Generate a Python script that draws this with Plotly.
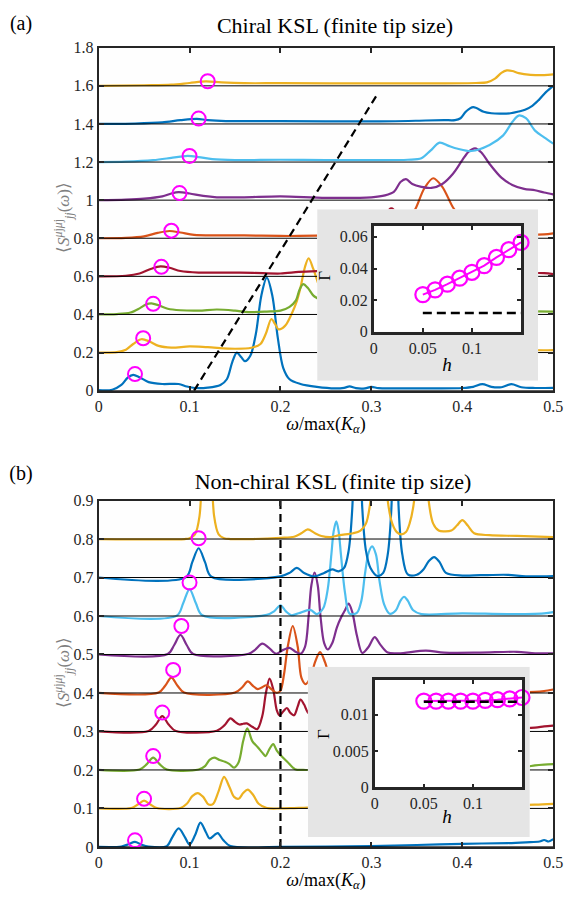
import plotly.graph_objects as go

W, H = 572, 903
FONT = "Liberation Serif"
AX = "#262626"

# ---------------- data: panel (a) chiral KSL ----------------
a_colors = ["#0072BD", "#EDB120", "#77AC30", "#A2142F", "#D95319",
            "#7E2F8E", "#4DBEEE", "#0072BD", "#EDB120"]
a_offsets = [0, 0.2, 0.4, 0.6, 0.8, 1.0, 1.2, 1.4, 1.6]

a_w0 = [0, 0.015, 0.025, 0.032, 0.038, 0.045, 0.055, 0.07, 0.088, 0.097, 0.106, 0.12, 0.134, 0.141, 0.147, 0.152, 0.157, 0.161, 0.167, 0.173, 0.179, 0.185, 0.191, 0.197, 0.203, 0.21, 0.222, 0.24, 0.26, 0.27, 0.276, 0.283, 0.293, 0.3, 0.308, 0.33, 0.37, 0.4, 0.412, 0.422, 0.432, 0.443, 0.454, 0.465, 0.48, 0.5]
a_s0 = [0.003, 0.005, 0.03, 0.068, 0.083, 0.07, 0.045, 0.035, 0.035, 0.022, 0.014, 0.016, 0.03, 0.06, 0.15, 0.2, 0.175, 0.155, 0.185, 0.3, 0.5, 0.593, 0.5, 0.28, 0.12, 0.06, 0.035, 0.02, 0.012, 0.015, 0.022, 0.013, 0.012, 0.02, 0.013, 0.012, 0.012, 0.014, 0.02, 0.034, 0.02, 0.018, 0.034, 0.018, 0.014, 0.015]

a_w1 = [0, 0.02, 0.03, 0.038, 0.047, 0.056, 0.066, 0.08, 0.1, 0.12, 0.15, 0.168, 0.178, 0.184, 0.19, 0.194, 0.198, 0.205, 0.212, 0.218, 0.222, 0.227, 0.231, 0.236, 0.241, 0.25, 0.262, 0.28, 0.3, 0.33, 0.36, 0.4, 0.44, 0.47, 0.49, 0.5]
a_s1 = [0.2, 0.202, 0.215, 0.245, 0.27, 0.258, 0.235, 0.226, 0.232, 0.228, 0.22, 0.225, 0.245, 0.3, 0.376, 0.35, 0.322, 0.34, 0.4, 0.47, 0.54, 0.65, 0.695, 0.64, 0.57, 0.45, 0.32, 0.26, 0.24, 0.23, 0.225, 0.222, 0.215, 0.213, 0.212, 0.213]

a_w2 = [0, 0.02, 0.035, 0.045, 0.052, 0.058, 0.066, 0.076, 0.09, 0.11, 0.13, 0.15, 0.165, 0.185, 0.2, 0.21, 0.217, 0.221, 0.225, 0.23, 0.236, 0.242, 0.25, 0.26, 0.28, 0.3, 0.34, 0.38, 0.42, 0.46, 0.48, 0.5]
a_s2 = [0.4, 0.402, 0.41, 0.432, 0.452, 0.458, 0.448, 0.43, 0.422, 0.42, 0.426, 0.42, 0.412, 0.415, 0.42, 0.44, 0.474, 0.53, 0.559, 0.54, 0.5, 0.48, 0.45, 0.43, 0.425, 0.42, 0.418, 0.42, 0.418, 0.416, 0.416, 0.415]

a_w3 = [0, 0.03, 0.045, 0.058, 0.068, 0.078, 0.09, 0.11, 0.14, 0.17, 0.2, 0.22, 0.24, 0.27, 0.3, 0.31, 0.317, 0.322, 0.327, 0.334, 0.345, 0.37, 0.4, 0.43, 0.46, 0.49, 0.5]
a_s3 = [0.6, 0.603, 0.615, 0.64, 0.652, 0.645, 0.628, 0.62, 0.62, 0.618, 0.615, 0.623, 0.627, 0.63, 0.64, 0.7, 0.93, 0.957, 0.93, 0.7, 0.64, 0.63, 0.63, 0.625, 0.62, 0.617, 0.612]

a_w4 = [0, 0.03, 0.05, 0.065, 0.078, 0.09, 0.105, 0.13, 0.16, 0.2, 0.22, 0.25, 0.3, 0.325, 0.338, 0.348, 0.358, 0.368, 0.378, 0.39, 0.4, 0.415, 0.44, 0.47, 0.49, 0.5]
a_s4 = [0.8, 0.802, 0.81, 0.828, 0.838, 0.83, 0.818, 0.815, 0.815, 0.812, 0.812, 0.815, 0.82, 0.845, 0.89, 0.95, 1.06, 1.115, 1.07, 0.96, 0.9, 0.85, 0.825, 0.818, 0.82, 0.826]

a_w5 = [0, 0.03, 0.05, 0.07, 0.08, 0.088, 0.1, 0.115, 0.13, 0.16, 0.2, 0.25, 0.3, 0.315, 0.325, 0.332, 0.338, 0.345, 0.355, 0.366, 0.378, 0.39, 0.4, 0.407, 0.414, 0.421, 0.43, 0.443, 0.455, 0.468, 0.48, 0.49, 0.5]
a_s5 = [1.0, 1.003, 1.008, 1.02, 1.035, 1.042, 1.035, 1.022, 1.015, 1.015, 1.02, 1.012, 1.015, 1.025, 1.045, 1.095, 1.11, 1.085, 1.07, 1.064, 1.085, 1.14, 1.21, 1.255, 1.272, 1.25, 1.19, 1.118, 1.08, 1.059, 1.052, 1.04, 1.03]

a_w6 = [0, 0.03, 0.06, 0.08, 0.09, 0.098, 0.11, 0.125, 0.15, 0.2, 0.25, 0.3, 0.34, 0.355, 0.365, 0.375, 0.385, 0.395, 0.41, 0.43, 0.445, 0.455, 0.462, 0.47, 0.48, 0.49, 0.5]
a_s6 = [1.2, 1.202, 1.21, 1.222, 1.228, 1.232, 1.226, 1.215, 1.21, 1.212, 1.21, 1.21, 1.212, 1.22, 1.26, 1.302, 1.285, 1.27, 1.258, 1.29, 1.34, 1.41, 1.444, 1.43, 1.365, 1.33, 1.297]

a_w7 = [0, 0.04, 0.07, 0.09, 0.108, 0.12, 0.14, 0.2, 0.3, 0.36, 0.38, 0.392, 0.398, 0.404, 0.412, 0.4235, 0.432, 0.441, 0.453, 0.462, 0.469, 0.477, 0.484, 0.492, 0.5]
a_s7 = [1.4, 1.402, 1.408, 1.42, 1.427, 1.42, 1.415, 1.415, 1.413, 1.418, 1.42, 1.42, 1.43, 1.465, 1.488, 1.464, 1.456, 1.454, 1.456, 1.465, 1.475, 1.495, 1.525, 1.567, 1.6]

a_w8 = [0, 0.05, 0.08, 0.1, 0.118, 0.135, 0.16, 0.2, 0.3, 0.38, 0.415, 0.427, 0.436, 0.443, 0.449, 0.455, 0.462, 0.475, 0.49, 0.5]
a_s8 = [1.6, 1.603, 1.606, 1.615, 1.623, 1.618, 1.614, 1.614, 1.613, 1.613, 1.615, 1.618, 1.638, 1.668, 1.681, 1.678, 1.667, 1.658, 1.656, 1.66]

a_circ_w = [0.04, 0.049, 0.06, 0.069, 0.08, 0.089, 0.1, 0.11, 0.12]
a_circ_s = [0.087, 0.275, 0.456, 0.65, 0.84, 1.037, 1.232, 1.428, 1.624]

a_guide_w = [0.105, 0.308]
a_guide_s = [0.0, 1.567]

# ---------------- data: panel (b) non-chiral KSL ----------------
b_colors = a_colors
b_offsets = [0, 0.1, 0.2, 0.3, 0.4, 0.5, 0.6, 0.7, 0.8]

b_w0 = [0, 0.025, 0.033, 0.04, 0.047, 0.055, 0.075, 0.081, 0.088, 0.095, 0.1, 0.106, 0.112, 0.118, 0.122, 0.127, 0.131, 0.137, 0.145, 0.2, 0.3, 0.35, 0.4, 0.45, 0.47, 0.485, 0.49, 0.495, 0.5]
b_s0 = [0, 0.001, 0.007, 0.013, 0.006, 0.001, 0.002, 0.025, 0.048, 0.025, 0.006, 0.03, 0.063, 0.038, 0.022, 0.03, 0.036, 0.018, 0.002, 0.0, 0.002, 0.005, 0.008, 0.01, 0.012, 0.014, 0.018, 0.014, 0.02]

b_w1 = [0, 0.036, 0.043, 0.05, 0.057, 0.064, 0.09, 0.097, 0.103, 0.109, 0.115, 0.121, 0.126, 0.132, 0.138, 0.144, 0.149, 0.154, 0.159, 0.164, 0.17, 0.176, 0.185, 0.2, 0.215, 0.23, 0.25, 0.27, 0.3, 0.35, 0.4, 0.45, 0.48, 0.5]
b_s1 = [0.1, 0.101, 0.11, 0.12, 0.11, 0.101, 0.101, 0.112, 0.132, 0.14, 0.13, 0.11, 0.112, 0.145, 0.182, 0.155, 0.13, 0.125, 0.14, 0.149, 0.135, 0.112, 0.101, 0.1, 0.101, 0.102, 0.105, 0.103, 0.104, 0.105, 0.107, 0.108, 0.11, 0.112]

b_w2 = [0, 0.045, 0.053, 0.06, 0.067, 0.075, 0.11, 0.117, 0.122, 0.127, 0.133, 0.139, 0.144, 0.149, 0.154, 0.159, 0.1635, 0.169, 0.175, 0.18, 0.1835, 0.188, 0.192, 0.196, 0.201, 0.208, 0.216, 0.225, 0.25, 0.3, 0.35, 0.4, 0.45, 0.47, 0.48, 0.49, 0.5]
b_s2 = [0.2, 0.201, 0.215, 0.232, 0.215, 0.201, 0.201, 0.21, 0.226, 0.232, 0.226, 0.221, 0.215, 0.206, 0.22, 0.275, 0.308, 0.275, 0.259, 0.245, 0.236, 0.255, 0.267, 0.25, 0.236, 0.22, 0.202, 0.2, 0.201, 0.203, 0.204, 0.205, 0.206, 0.208, 0.212, 0.214, 0.215]

b_w3 = [0, 0.055, 0.063, 0.07, 0.077, 0.085, 0.13, 0.138, 0.145, 0.15, 0.155, 0.159, 0.163, 0.169, 0.1745, 0.18, 0.184, 0.188, 0.192, 0.196, 0.199, 0.203, 0.207, 0.211, 0.215, 0.219, 0.222, 0.226, 0.23, 0.24, 0.26, 0.3, 0.35, 0.4, 0.45, 0.48, 0.49, 0.5]
b_s3 = [0.3, 0.301, 0.318, 0.34, 0.318, 0.301, 0.302, 0.315, 0.334, 0.325, 0.318, 0.32, 0.321, 0.312, 0.306, 0.34, 0.4, 0.4375, 0.41, 0.355, 0.342, 0.352, 0.361, 0.348, 0.342, 0.365, 0.383, 0.37, 0.35, 0.33, 0.32, 0.31, 0.305, 0.305, 0.307, 0.31, 0.313, 0.315]

b_w4 = [0, 0.066, 0.073, 0.08, 0.087, 0.094, 0.15, 0.158, 0.164, 0.17, 0.175, 0.18, 0.1845, 0.19, 0.196, 0.2, 0.204, 0.208, 0.2135, 0.219, 0.223, 0.2277, 0.233, 0.238, 0.2435, 0.249, 0.254, 0.26, 0.27, 0.3, 0.35, 0.4, 0.45, 0.48, 0.49, 0.5]
b_s4 = [0.4, 0.401, 0.418, 0.44, 0.418, 0.401, 0.401, 0.415, 0.43, 0.418, 0.41, 0.415, 0.42, 0.41, 0.4, 0.406, 0.45, 0.52, 0.574, 0.52, 0.44, 0.423, 0.44, 0.48, 0.506, 0.48, 0.44, 0.415, 0.405, 0.402, 0.402, 0.401, 0.402, 0.403, 0.405, 0.409]

b_w5 = [0, 0.076, 0.083, 0.09, 0.097, 0.104, 0.165, 0.172, 0.18, 0.187, 0.195, 0.203, 0.21, 0.216, 0.222, 0.227, 0.231, 0.234, 0.2375, 0.241, 0.244, 0.248, 0.252, 0.257, 0.262, 0.267, 0.271, 0.275, 0.279, 0.284, 0.29, 0.297, 0.3036, 0.31, 0.318, 0.33, 0.36, 0.38, 0.42, 0.46, 0.48, 0.5]
b_s5 = [0.5, 0.501, 0.524, 0.551, 0.524, 0.501, 0.502, 0.512, 0.528, 0.518, 0.502, 0.512, 0.517, 0.508, 0.502, 0.52, 0.6, 0.68, 0.713, 0.68, 0.6, 0.53, 0.513, 0.53, 0.57, 0.598, 0.615, 0.632, 0.61, 0.55, 0.504, 0.52, 0.545, 0.525, 0.505, 0.503, 0.51, 0.505, 0.505, 0.507, 0.503, 0.503]

b_w6 = [0, 0.086, 0.093, 0.1, 0.107, 0.114, 0.185, 0.193, 0.2, 0.206, 0.212, 0.22, 0.2328, 0.24, 0.247, 0.252, 0.256, 0.2585, 0.2614, 0.264, 0.2665, 0.271, 0.276, 0.284, 0.289, 0.293, 0.297, 0.3008, 0.305, 0.309, 0.314, 0.32, 0.327, 0.332, 0.336, 0.34, 0.346, 0.355, 0.4, 0.45, 0.49, 0.5]
b_s6 = [0.6, 0.601, 0.633, 0.67, 0.633, 0.602, 0.603, 0.612, 0.628, 0.612, 0.602, 0.607, 0.616, 0.605, 0.62, 0.67, 0.76, 0.82, 0.846, 0.82, 0.76, 0.66, 0.606, 0.608, 0.64, 0.71, 0.765, 0.781, 0.76, 0.69, 0.63, 0.606, 0.615, 0.64, 0.65, 0.64, 0.615, 0.605, 0.607, 0.605, 0.607, 0.61]

b_w7 = [0, 0.096, 0.103, 0.11, 0.117, 0.124, 0.2, 0.21, 0.218, 0.226, 0.2375, 0.248, 0.257, 0.264, 0.27, 0.275, 0.279, 0.2845, 0.29, 0.294, 0.299, 0.307, 0.313, 0.318, 0.322, 0.326, 0.33, 0.334, 0.34, 0.35, 0.357, 0.363, 0.369, 0.375, 0.382, 0.4, 0.42, 0.45, 0.47, 0.5]
b_s7 = [0.7, 0.701, 0.74, 0.776, 0.74, 0.702, 0.703, 0.712, 0.725, 0.712, 0.703, 0.712, 0.721, 0.716, 0.725, 0.77, 0.88, 1.3, 0.88, 0.77, 0.725, 0.704, 0.712, 0.76, 0.88, 1.3, 0.88, 0.76, 0.708, 0.707, 0.72, 0.742, 0.753, 0.74, 0.712, 0.705, 0.706, 0.707, 0.703, 0.704]

b_w8 = [0, 0.095, 0.1, 0.106, 0.111, 0.119, 0.127, 0.132, 0.138, 0.145, 0.17, 0.2, 0.215, 0.223, 0.23, 0.238, 0.245, 0.255, 0.265, 0.28, 0.288, 0.294, 0.299, 0.308, 0.318, 0.323, 0.328, 0.333, 0.338, 0.342, 0.347, 0.355, 0.363, 0.368, 0.374, 0.38, 0.388, 0.394, 0.4, 0.406, 0.413, 0.43, 0.46, 0.5]
b_s8 = [0.8, 0.8, 0.802, 0.812, 0.86, 1.3, 0.86, 0.812, 0.802, 0.8, 0.8, 0.803, 0.806, 0.815, 0.825, 0.815, 0.808, 0.805, 0.81, 0.815, 0.822, 0.84, 0.9, 1.3, 0.9, 0.84, 0.818, 0.812, 0.818, 0.84, 0.9, 1.3, 0.9, 0.84, 0.822, 0.82, 0.822, 0.835, 0.849, 0.835, 0.815, 0.81, 0.808, 0.805]

b_circ_w = [0.04, 0.05, 0.06, 0.07, 0.082, 0.091, 0.1, 0.11]
b_circ_s = [0.017, 0.125, 0.236, 0.349, 0.46, 0.574, 0.687, 0.802]

b_guide_w = [0.2, 0.2]
b_guide_s = [0.0, 0.9]

# ---------------- inset data ----------------
h_vals = [0.05, 0.0625, 0.075, 0.0875, 0.1, 0.1125, 0.125, 0.1375, 0.15]
gamma_a = [0.0235, 0.0265, 0.0301, 0.0339, 0.0376, 0.0418, 0.047, 0.0519, 0.0565]
gamma_b = [0.0119, 0.0119, 0.0119, 0.0119, 0.0119, 0.012, 0.0121, 0.0122, 0.0124]
gamma_ref_a = 0.0119
gamma_ref_b = 0.0118
h_ref = [0.05, 0.15]
inset_xticks = [0, 0.05, 0.1]

a_curves = [(a_w0, a_s0), (a_w1, a_s1), (a_w2, a_s2), (a_w3, a_s3), (a_w4, a_s4),
            (a_w5, a_s5), (a_w6, a_s6), (a_w7, a_s7), (a_w8, a_s8)]
b_curves = [(b_w0, b_s0), (b_w1, b_s1), (b_w2, b_s2), (b_w3, b_s3), (b_w4, b_s4),
            (b_w5, b_s5), (b_w6, b_s6), (b_w7, b_s7), (b_w8, b_s8)]

# ---------------- geometry helpers ----------------
def dx(p0, p1):
    return [p0 / W, p1 / W]

def dy(top, bottom):
    return [1 - bottom / H, 1 - top / H]

fig = go.Figure()

def add_panel(curves, colors, offsets, cw, cs, gw, gs, xa, ya, xr):
    for (w, s), c in zip(curves, colors):
        fig.add_trace(go.Scatter(x=w, y=s, mode="lines", xaxis=xa, yaxis=ya,
                                 line=dict(color=c, width=2.2, shape="spline", smoothing=0.9),
                                 showlegend=False, hoverinfo="skip"))
    for off in offsets:
        fig.add_trace(go.Scatter(x=xr, y=[off, off], mode="lines", xaxis=xa, yaxis=ya,
                                 line=dict(color="black", width=1),
                                 showlegend=False, hoverinfo="skip"))
    fig.add_trace(go.Scatter(x=gw, y=gs, mode="lines", xaxis=xa, yaxis=ya,
                             line=dict(color="black", width=2.2, dash="8px,5px"),
                             showlegend=False, hoverinfo="skip"))
    fig.add_trace(go.Scatter(x=cw, y=cs, mode="markers", xaxis=xa, yaxis=ya,
                             marker=dict(symbol="circle-open", size=14, color="#FF00FF",
                                         line=dict(width=2, color="#FF00FF")),
                             showlegend=False, hoverinfo="skip"))

def add_inset(gam, gref, xa, ya):
    fig.add_trace(go.Scatter(x=h_vals, y=gam, mode="lines+markers", xaxis=xa, yaxis=ya,
                             line=dict(color="#FF00FF", width=2),
                             marker=dict(symbol="circle-open", size=15, color="#FF00FF",
                                         line=dict(width=2.2, color="#FF00FF")),
                             cliponaxis=False, showlegend=False, hoverinfo="skip"))
    fig.add_trace(go.Scatter(x=h_ref, y=[gref, gref], mode="lines", xaxis=xa, yaxis=ya,
                             line=dict(color="black", width=2.5, dash="9px,5px"),
                             cliponaxis=False, showlegend=False, hoverinfo="skip"))

add_panel(a_curves, a_colors, a_offsets, a_circ_w, a_circ_s, a_guide_w, a_guide_s, "x", "y", [0, 0.5])
add_inset(gamma_a, gamma_ref_a, "x3", "y3")
add_panel(b_curves, b_colors, b_offsets, b_circ_w, b_circ_s, b_guide_w, b_guide_s, "x4", "y4", [0, 0.5])
add_inset(gamma_b, gamma_ref_b, "x6", "y6")

main_ax = dict(showline=True, linecolor=AX, linewidth=2, mirror="ticks", ticks="inside",
               ticklen=5, tickwidth=1.5, tickcolor=AX, showgrid=False, zeroline=False,
               ticklabeloverflow="allow",
               tickfont=dict(family=FONT, size=16, color=AX), fixedrange=True)
ins_ax = dict(showline=True, linecolor=AX, linewidth=2.5, mirror="ticks", ticks="inside",
              ticklen=4, tickwidth=1.5, tickcolor=AX, showgrid=False, zeroline=False,
              ticklabeloverflow="allow",
              tickfont=dict(family=FONT, size=16, color=AX), fixedrange=True)
hidden = dict(visible=False, range=[0, 1], fixedrange=True, showticklabels=False,
              ticks="", tickmode="array", tickvals=[], showgrid=False, zeroline=False,
              showline=False)

A_main = dict(x=(97, 563), y=(40.5, 390))
A_gray = dict(x=(321, 547.5), y=(205, 380))
A_ins = dict(x=(379, 530), y=(222, 330))
B_main = dict(x=(97, 563), y=(502, 855))
B_gray = dict(x=(311.5, 539), y=(671.5, 845))
B_ins = dict(x=(380, 531), y=(685, 794.3))

fig.update_layout(
    width=W, height=H, margin=dict(l=0, r=0, t=0, b=0),
    paper_bgcolor="white", plot_bgcolor="#fefefe", showlegend=False,
    font=dict(family=FONT, size=16, color=AX),
    xaxis=dict(main_ax, domain=dx(*A_main["x"]), range=[0, 0.5], dtick=0.1, tick0=0, anchor="y"),
    yaxis=dict(main_ax, domain=dy(*A_main["y"]), range=[0, 1.8], dtick=0.2, tick0=0, anchor="x"),
    xaxis2=dict(hidden, domain=dx(*A_gray["x"]), anchor="y2"),
    yaxis2=dict(hidden, domain=dy(*A_gray["y"]), anchor="x2"),
    xaxis3=dict(ins_ax, domain=dx(*A_ins["x"]), range=[0, 0.15], tickvals=inset_xticks, anchor="y3"),
    yaxis3=dict(ins_ax, domain=dy(*A_ins["y"]), range=[0, 0.067], dtick=0.02, tick0=0, anchor="x3"),
    xaxis4=dict(main_ax, domain=dx(*B_main["x"]), range=[0, 0.5], dtick=0.1, tick0=0, anchor="y4"),
    yaxis4=dict(main_ax, domain=dy(*B_main["y"]), range=[0, 0.9], dtick=0.1, tick0=0, anchor="x4"),
    xaxis5=dict(hidden, domain=dx(*B_gray["x"]), anchor="y5"),
    yaxis5=dict(hidden, domain=dy(*B_gray["y"]), anchor="x5"),
    xaxis6=dict(ins_ax, domain=dx(*B_ins["x"]), range=[0, 0.15], tickvals=inset_xticks, anchor="y6"),
    yaxis6=dict(ins_ax, domain=dy(*B_ins["y"]), range=[0, 0.0148], dtick=0.005, tick0=0, anchor="x6"),
)

# gray inset panels and white inset plot areas (drawn in the subplot layers)
for xr_, yr_ in (("x2", "y2"), ("x5", "y5")):
    fig.add_shape(type="rect", xref=xr_, yref=yr_, x0=0, x1=1, y0=0, y1=1,
                  fillcolor="#e5e5e5", line=dict(width=0), layer="below")
fig.add_shape(type="rect", xref="x3", yref="y3", x0=0, x1=0.15, y0=0, y1=0.067,
              fillcolor="white", line=dict(width=0), layer="below")
fig.add_shape(type="rect", xref="x6", yref="y6", x0=0, x1=0.15, y0=0, y1=0.0148,
              fillcolor="white", line=dict(width=0), layer="below")

def ann(text, x, y, size, bw, bh, color="black", angle=0):
    fig.add_annotation(text=text, x=x / W, y=1 - y / H, xref="paper", yref="paper",
                       showarrow=False, textangle=angle, xanchor="center", yanchor="middle",
                       width=bw, height=bh, align="center", valign="middle", borderpad=0,
                       font=dict(family=FONT, size=size, color=color))

ylab = "⟨<i>S</i><sup><i>μ</i>j<i>μ</i>j</sup><sub><i>jj</i></sub>(<i>ω</i>)⟩"
xlab = "<i>ω</i>/max(<i>K</i><sub><i>α</i></sub>)"

ann("(a)", 17, 15, 20, 30, 24)
ann("Chiral KSL (finite tip size)", 339, 17, 22, 290, 28)
ann(xlab, 330, 425, 18, 120, 26)
ann(ylab, 61, 214, 17, 100, 26, color="#808080", angle=-90)
ann("Γ", 328, 273, 17, 16, 20, angle=-90)
ann("<i>h</i>", 454, 363, 19, 16, 22)

ann("(b)", 17, 474, 20, 30, 24)
ann("Non-chiral KSL (finite tip size)", 337, 482, 22, 320, 28)
ann(xlab, 330, 890, 18, 120, 26)
ann(ylab, 61, 678, 17, 100, 26, color="#808080", angle=-90)
ann("Γ", 328, 740, 17, 16, 20, angle=-90)
ann("<i>h</i>", 454, 823, 19, 16, 22)

fig.write_html("out.html", config={"displayModeBar": False},
               post_script="document.body.style.margin='0';document.body.style.overflow='hidden';")
